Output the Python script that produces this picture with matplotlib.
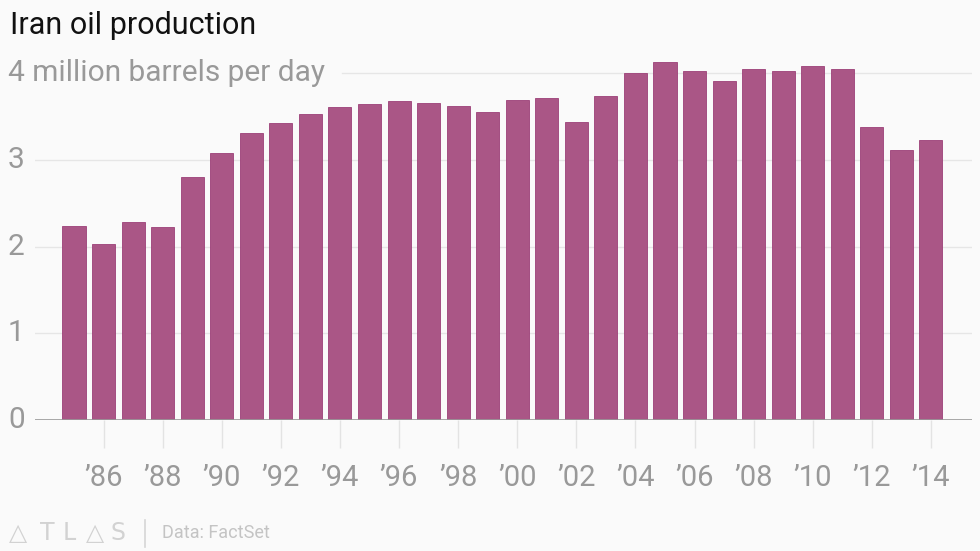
import matplotlib
matplotlib.use('Agg')
import matplotlib.pyplot as plt
import matplotlib.transforms as mtransforms
from matplotlib.lines import Line2D

# Iran oil production, million barrels per day
years = list(range(1985, 2015))
production = [2.24, 2.03, 2.28, 2.23, 2.80, 3.08, 3.31, 3.43, 3.53, 3.61,
              3.64, 3.68, 3.66, 3.62, 3.55, 3.69, 3.71, 3.44, 3.74, 4.00,
              4.13, 4.02, 3.91, 4.05, 4.03, 4.08, 4.05, 3.38, 3.11, 3.23]
tick_years = list(range(1986, 2015, 2))
tick_labels = ["\u2019" + str(y)[2:] for y in tick_years]
y_ticks = [0, 1, 2, 3, 4]
y_labels = ['0', '1', '2', '3', '4 million barrels per day']
logo_letters = ['\u25b3', 'T', 'L', '\u25b3', 'S']

plt.rcParams['font.family'] = ['Roboto', 'DejaVu Sans']
bg = '#fafafa'
bar_color = '#aa5686'
label_grey = '#999999'

fig = plt.figure(figsize=(9.8, 5.51), dpi=100, facecolor=bg)
W, H = 980, 551
ax_left, ax_right = 35 / W, 972 / W
ax_bottom = 1 - 420 / H
ax_top_px = 420 - 4.3 * 86.7
ax = fig.add_axes([ax_left, ax_bottom, ax_right - ax_left, (420 - ax_top_px) / H])
ax.set_facecolor(bg)

ax.bar(years, production, width=0.78, color=bar_color,
       edgecolor='#9c3f78', linewidth=0.6, zorder=3)

ax.set_xlim(1983.68, 2015.39)
ax.set_ylim(0, 4.3)

for s in ax.spines.values():
    s.set_visible(False)

# gridlines
for y in [1, 2, 3]:
    ax.axhline(y, color='#e6e6e6', linewidth=1, zorder=1)
ax.axhline(4, xmin=(342 - 35) / (972 - 35), xmax=1, color='#e6e6e6', linewidth=1, zorder=1)
ax.axhline(0, color='#999999', linewidth=1.2, zorder=4)

# y labels drawn at left edge of figure
ax.set_yticks([])
trans = mtransforms.blended_transform_factory(fig.transFigure, ax.transData)
for y, lab in zip(y_ticks, y_labels):
    ax.text(8 / W, y, lab, transform=trans, ha='left', va='center',
            fontsize=21.5, color=label_grey)

ax.set_xticks(tick_years)
ax.set_xticklabels(tick_labels, fontsize=21, color=label_grey)
ax.tick_params(axis='x', length=20, width=1, color='#e3e3e3', pad=12)

fig.text(10 / W, 1 - 25 / H, 'Iran oil production', fontsize=22,
         color='#111111', ha='left', va='center')

# footer: logo + source
for xc, ch in zip([18, 47, 69, 95, 118], logo_letters):
    fig.text(xc / W, 1 - 533 / H, ch, fontsize=17, color='#d2d2d2',
             ha='center', va='center', family=['DejaVu Sans'])
fig.add_artist(Line2D([145 / W, 145 / W], [1 - 520 / H, 1 - 547 / H],
                      transform=fig.transFigure, color='#d5d5d5', linewidth=1.2))
fig.text(162 / W, 1 - 533 / H, 'Data: FactSet', fontsize=13,
         color='#c4c4c4', ha='left', va='center')

fig.savefig('out.png', dpi=100, facecolor=bg)
